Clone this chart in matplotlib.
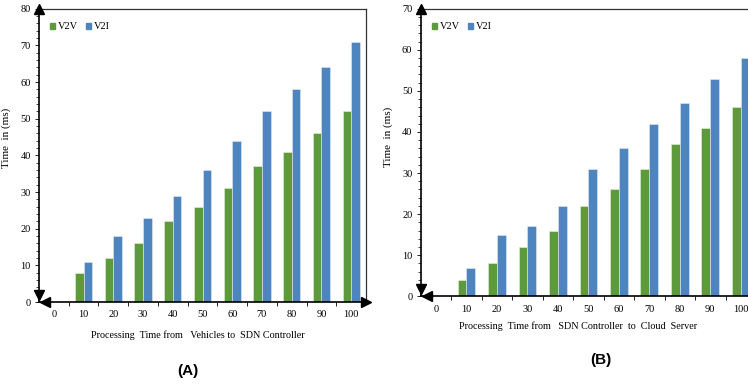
import matplotlib
matplotlib.use("Agg")
import matplotlib.pyplot as plt
from matplotlib.patches import Patch
import numpy as np

# data
categories = [0, 10, 20, 30, 40, 50, 60, 70, 80, 90, 100]
a_v2v = [0, 8, 12, 16, 22, 26, 31, 37, 41, 46, 52]
a_v2i = [0, 11, 18, 23, 29, 36, 44, 52, 58, 64, 71]
b_v2v = [0, 4, 8, 12, 16, 22, 26, 31, 37, 41, 46]
b_v2i = [0, 7, 15, 17, 22, 31, 36, 42, 47, 53, 58]

GREEN = '#5c9a3b'
BLUE = '#4f85bf'
W, H = 748, 385
serif = 'Liberation Serif'

fig = plt.figure(figsize=(W / 100, H / 100), dpi=100)


def px_axes(left, top, right, bottom):
    return fig.add_axes([left / W, 1 - bottom / H, (right - left) / W, (bottom - top) / H])


def draw_panel(ax, v2v, v2i, ymax, xlabel, xlab_pos, ylab_pos):
    x = np.arange(len(categories))
    bw = 0.29
    ax.bar(x - bw / 2, v2v, bw, color=GREEN, edgecolor='#e6efe0', linewidth=0.4)
    ax.bar(x + bw / 2, v2i, bw, color=BLUE, edgecolor='#e1eaf4', linewidth=0.4)
    ax.set_xlim(-0.5, len(categories) - 0.5)
    ax.set_ylim(0, ymax)
    ax.set_xticks(x)
    ax.set_xticklabels([str(c) for c in categories], fontfamily=serif, fontsize=7.5)
    ax.set_xticks(x[:-1] + 0.5, minor=True)
    ax.tick_params(axis='x', which='major', length=0, pad=6)
    ax.tick_params(axis='x', which='minor', length=3, width=0.6, direction='out')
    ax.set_yticks(np.arange(0, ymax + 1, 10))
    ax.set_yticks(np.arange(0, ymax + 1, 2), minor=True)
    ax.tick_params(axis='y', which='major', length=3, width=0.6, pad=3)
    ax.tick_params(axis='y', which='minor', length=2, width=0.5)
    for lab in ax.get_yticklabels():
        lab.set_fontfamily(serif)
        lab.set_fontsize(7.5)
    for s in ['left', 'bottom']:
        ax.spines[s].set_linewidth(1.2)
    for s in ['top', 'right']:
        ax.spines[s].set_linewidth(0.9)
        ax.spines[s].set_color('#333333')

    # arrow heads on the axes
    kw = dict(transform=ax.transAxes, clip_on=False, color='black', markersize=7, zorder=5)
    ax.plot([0], [1.0], marker='^', **kw)
    ax.plot([0], [0.025], marker='v', **kw)
    ax.plot([0.018], [0], marker='<', **kw)
    ax.plot([1.0], [0], marker='>', **kw)

    ax.set_xlabel(xlabel, fontfamily=serif, fontsize=7.3)
    ax.xaxis.set_label_coords(*xlab_pos)
    ax.set_ylabel('Time  in (ms)', fontfamily=serif, fontsize=8)
    ax.yaxis.set_label_coords(*ylab_pos)

    handles = [Patch(color=GREEN, label='V2V'), Patch(color=BLUE, label='V2I')]
    ax.legend(handles=handles, loc='upper left', bbox_to_anchor=(0.005, 0.985), ncol=2,
              frameon=False, prop={'family': serif, 'size': 7.5},
              handlelength=0.5, handleheight=0.5, handletextpad=0.25, columnspacing=0.8)


ax_a = px_axes(39, 8.7, 366, 302)
draw_panel(ax_a, a_v2v, a_v2i, 80,
           'Processing  Time from   Vehicles to  SDN Controller',
           (0.486, -0.095), (-0.086, 0.56))

ax_b = px_axes(420.7, 8.7, 756, 296.3)
draw_panel(ax_b, b_v2v, b_v2i, 70,
           'Processing  Time from   SDN Controller  to  Cloud  Server',
           (0.47, -0.088), (-0.082, 0.554))

fig.text(188 / W, 1 - 371 / H, '(A)', ha='center', va='center',
         fontfamily='Liberation Sans', fontweight='bold', fontsize=11)
fig.text(600.7 / W, 1 - 360 / H, '(B)', ha='center', va='center',
         fontfamily='Liberation Sans', fontweight='bold', fontsize=11)

fig.savefig('out.png', dpi=100)
